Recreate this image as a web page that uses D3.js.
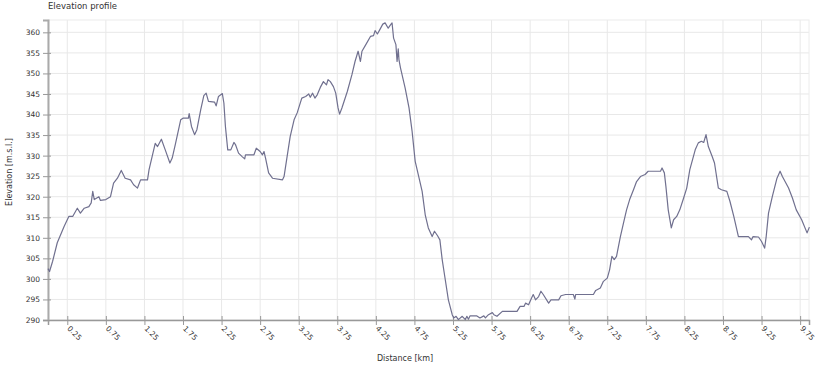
<!DOCTYPE html>
<html>
<head>
<meta charset="utf-8">
<script src="https://cdn.jsdelivr.net/npm/d3@7"></script>
<style>
  body { margin: 0; background: #fff; }
  text { font-family: "DejaVu Sans", sans-serif; fill: #333; }
</style>
</head>
<body>
<div id="chart"></div>
<script>
const w = 839;
const h = 375;
const margin = { top: 20, right: 30, bottom: 55, left: 48 };

// distance along the track, km
const distance = [
  0, 0.02, 0.06, 0.12, 0.21, 0.27, 0.32, 0.38, 0.42, 0.47, 0.53, 0.56, 0.58, 0.6, 0.66,
  0.68, 0.75, 0.81, 0.85, 0.9, 0.95, 1.0, 1.07, 1.11, 1.16, 1.2, 1.29, 1.31, 1.39, 1.42,
  1.47, 1.52, 1.58, 1.61, 1.65, 1.72, 1.75, 1.82, 1.83, 1.86, 1.9, 1.93, 1.98, 2.02, 2.05,
  2.08, 2.16, 2.18, 2.21, 2.26, 2.28, 2.3, 2.33, 2.37, 2.41, 2.43, 2.47, 2.52, 2.55, 2.56,
  2.67, 2.7, 2.75, 2.78, 2.8, 2.82, 2.86, 2.91, 3.04, 3.06, 3.1, 3.14, 3.19, 3.23, 3.29,
  3.34, 3.38, 3.4, 3.43, 3.46, 3.49, 3.53, 3.57, 3.61, 3.63, 3.66, 3.7, 3.73, 3.76, 3.78,
  3.81, 3.88, 3.94, 3.98, 4.02, 4.05, 4.07, 4.12, 4.18, 4.22, 4.24, 4.27, 4.3, 4.34, 4.37,
  4.41, 4.44, 4.46, 4.48, 4.51, 4.525, 4.54, 4.55, 4.57, 4.63, 4.68, 4.72, 4.76, 4.8, 4.85,
  4.89, 4.93, 4.98, 5.01, 5.05, 5.08, 5.11, 5.15, 5.19, 5.24, 5.26, 5.29, 5.32, 5.37, 5.41,
  5.43, 5.45, 5.47, 5.56, 5.6, 5.65, 5.67, 5.71, 5.76, 5.78, 5.82, 5.89, 6.08, 6.12, 6.17,
  6.19, 6.23, 6.27, 6.29, 6.32, 6.36, 6.39, 6.42, 6.49, 6.52, 6.62, 6.65, 6.71, 6.81, 6.83,
  6.84, 7.07, 7.1, 7.16, 7.2, 7.25, 7.28, 7.31, 7.34, 7.37, 7.42, 7.46, 7.5, 7.54, 7.59,
  7.63, 7.68, 7.74, 7.78, 7.94, 7.96, 7.99, 8.01, 8.04, 8.08, 8.11, 8.15, 8.19, 8.24, 8.28,
  8.32, 8.39, 8.43, 8.47, 8.5, 8.53, 8.56, 8.61, 8.64, 8.69, 8.73, 8.8, 8.84, 8.89, 8.95,
  9.08, 9.12, 9.14, 9.21, 9.25, 9.29, 9.31, 9.34, 9.39, 9.45, 9.49, 9.52, 9.6, 9.65, 9.7,
  9.77, 9.84, 9.87
];

// elevation, m above sea level
const elevation = [
  302.5, 301.8, 304.3, 308.8, 312.8, 315.2, 315.2, 317.2, 316, 317.2, 317.6, 318.5, 321.3, 319.3, 320,
  319.1, 319.3, 320, 323.3, 324.5, 326.4, 324.5, 324.1, 322.9, 322.1, 324.1, 324.1, 326.6, 333, 332.2,
  334, 331.4, 328.2, 329.4, 332.7, 338.7, 339.1, 339.1, 340.2, 337.1, 335.1, 336.3, 341.2, 344.6, 345.2,
  343.2, 343, 342.1, 344.4, 345.1, 342.8, 337.1, 331.4, 331.4, 333.2, 332.7, 330.6, 329.7, 329.2, 330.2,
  330.2, 331.8, 331, 330.2, 331, 329.4, 325.8, 324.5, 324.1, 324.9, 329.8, 334.7, 338.7, 340.4, 344,
  344.4, 345, 344.2, 345.2, 344, 344.8, 346.6, 348, 347.2, 348.5, 348, 346.8, 345.2, 341.6, 340.1,
  341.6, 345.6, 349.7, 352.9, 355.4, 352.9, 355.4, 357, 359, 359.2, 360.4, 359.6, 360.6, 362, 362.3,
  361, 361.8, 362.3, 358.6, 357, 352.9, 356, 353.3, 351.3, 346.4, 341.6, 335.9, 328.6, 325.4, 321.3,
  315.6, 312.4, 310.3, 311.6, 310.5, 309.5, 304.7, 299.8, 294.9, 291.3, 290.5, 290.9, 290.1, 290.9, 290.1,
  290.9, 290.2, 291, 291, 290.5, 291, 290.5, 291.3, 291.8, 291.3, 290.9, 292.1, 292.1, 293.3, 293.3,
  294.1, 293.7, 295.4, 296.2, 294.9, 295.7, 297, 296.2, 294.1, 294.9, 294.9, 295.9, 296.2, 296.2, 295.1,
  296.2, 296.2, 297.2, 297.8, 299.4, 300.2, 302.2, 305.5, 304.7, 305.5, 310.3, 313.6, 316.8, 319.3, 321.7,
  323.7, 324.9, 325.4, 326.2, 326.2, 327, 325.8, 322.5, 316.8, 312.4, 314.4, 315.2, 316.8, 319.7, 322.1,
  326.6, 331.4, 333.1, 333.5, 333.2, 335.1, 332.2, 329.8, 328.2, 322.1, 321.7, 321.3, 318.9, 315.2, 310.3,
  310.3, 309.5, 310.3, 310.2, 309.1, 307.5, 310.3, 316, 320.1, 324.5, 326.2, 324.9, 322.1, 319.7, 316.8,
  314.4, 311.2, 312.6
];

const xTicks = [0.25, 0.75, 1.25, 1.75, 2.25, 2.75, 3.25, 3.75, 4.25, 4.75, 5.25, 5.75, 6.25, 6.75, 7.25, 7.75, 8.25, 8.75, 9.25, 9.75];
const yTicks = [290, 295, 300, 305, 310, 315, 320, 325, 330, 335, 340, 345, 350, 355, 360];

const data = distance.map((d, i) => ({ km: d, ele: elevation[i] }));

const svg = d3.select("#chart")
  .append("svg")
  .attr("width", w)
  .attr("height", h);

const x = d3.scaleLinear().domain([0, 9.865]).range([margin.left, w - margin.right]);
const y = d3.scaleLinear().domain([290, 363]).range([h - margin.bottom, margin.top]);

// grid
svg.append("g")
  .selectAll("line")
  .data(yTicks)
  .enter()
  .append("line")
  .attr("x1", margin.left)
  .attr("x2", w - margin.right)
  .attr("y1", (d) => y(d))
  .attr("y2", (d) => y(d))
  .attr("stroke", "#e8e8e8");

svg.append("g")
  .selectAll("line")
  .data(xTicks)
  .enter()
  .append("line")
  .attr("x1", (d) => x(d))
  .attr("x2", (d) => x(d))
  .attr("y1", margin.top)
  .attr("y2", h - margin.bottom)
  .attr("stroke", "#e8e8e8");

// plot border top / right
svg.append("rect")
  .attr("x", margin.left)
  .attr("y", margin.top)
  .attr("width", w - margin.left - margin.right)
  .attr("height", h - margin.top - margin.bottom)
  .attr("fill", "none")
  .attr("stroke", "#ececec");

// axes
const xAxis = svg.append("g")
  .attr("transform", `translate(0,${h - margin.bottom})`)
  .call(d3.axisBottom(x).tickValues(xTicks).tickSize(5).tickFormat(d3.format(".2f")));

xAxis.select(".domain").attr("stroke", "#999").attr("stroke-width", 1.5);
xAxis.selectAll(".tick line").attr("stroke", "#999").attr("y1", -4);
xAxis.selectAll(".tick text")
  .attr("font-size", "7.5px")
  .attr("font-family", "DejaVu Sans, sans-serif")
  .attr("fill", "#333")
  .attr("text-anchor", "start")
  .attr("dy", null)
  .attr("y", 0)
  .attr("transform", (d) => "translate(-1,9) rotate(45)");

const yAxis = svg.append("g")
  .attr("transform", `translate(${margin.left},0)`)
  .call(d3.axisLeft(y).tickValues(yTicks).tickSize(5));

yAxis.select(".domain").attr("stroke", "#aaa").attr("stroke-width", 2);
yAxis.selectAll(".tick line").attr("stroke", "#999").attr("x1", 3);
yAxis.selectAll(".tick text")
  .attr("font-size", "7.5px")
  .attr("font-family", "DejaVu Sans, sans-serif")
  .attr("fill", "#333")
  .attr("x", -8);

// profile line
const line = d3.line()
  .x((d) => x(d.km))
  .y((d) => y(d.ele));

svg.append("path")
  .datum(data)
  .attr("d", line)
  .attr("fill", "none")
  .attr("stroke", "#70708f")
  .attr("stroke-width", 1.2)
  .attr("stroke-linejoin", "round");

// labels
svg.append("text")
  .text("Elevation profile")
  .attr("x", margin.left)
  .attr("y", 9)
  .attr("font-size", "8.5px");

svg.append("text")
  .text("Distance [km]")
  .attr("x", 405)
  .attr("y", 361)
  .attr("text-anchor", "middle")
  .attr("font-size", "8px");

svg.append("text")
  .text("Elevation [m.s.l.]")
  .attr("transform", "translate(12,172) rotate(-90)")
  .attr("text-anchor", "middle")
  .attr("font-size", "8px");
</script>
</body>
</html>
